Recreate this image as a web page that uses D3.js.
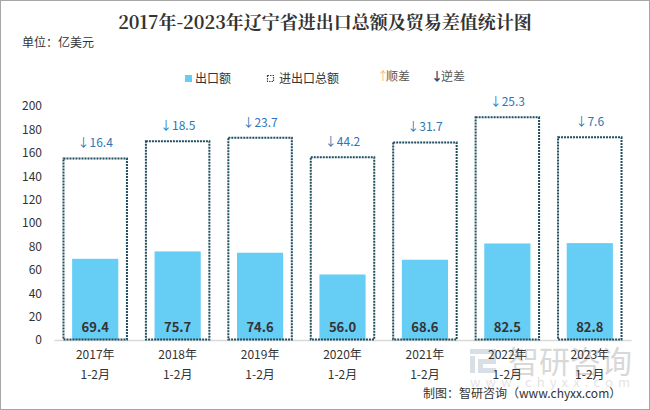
<!DOCTYPE html>
<html><head><meta charset="utf-8">
<script src="https://cdn.jsdelivr.net/npm/d3@7"></script>
<style>body{margin:0;background:#fff}svg{display:block}</style>
</head><body>
<script>
const categories = ["2017年\n1-2月","2018年\n1-2月","2019年\n1-2月","2020年\n1-2月","2021年\n1-2月","2022年\n1-2月","2023年\n1-2月"];
const exportValues = [69.4,75.7,74.6,56.0,68.6,82.5,82.8];
const totalValues = [155.2,169.9,172.9,156.2,168.9,190.3,173.2];
const balanceValues = [16.4,18.5,23.7,44.2,31.7,25.3,7.6];
const balanceType = ["逆差","逆差","逆差","逆差","逆差","逆差","逆差"];
const yTicks = [0,20,40,60,80,100,120,140,160,180,200];

const W=650,H=410;
const svg=d3.select("body").append("svg").attr("width",W).attr("height",H);
svg.append("rect").attr("x",0.5).attr("y",0.5).attr("width",W-1).attr("height",H-1).attr("fill","#fff").attr("stroke","#a6a6a6");

const font="'Microsoft YaHei','Noto Sans CJK SC',sans-serif";

// watermark (behind everything)
const wm=svg.append("g").attr("opacity",0.3);
const logo=wm.append("g").attr("fill","#8497b0");
logo.append("rect").attr("x",470).attr("y",349).attr("width",26).attr("height",5);
logo.append("rect").attr("x",491).attr("y",349).attr("width",5).attr("height",14);
logo.append("rect").attr("x",478).attr("y",359).attr("width",18).attr("height",5);
logo.append("rect").attr("x",478).attr("y",359).attr("width",5).attr("height",14);
logo.append("rect").attr("x",478).attr("y",368).attr("width",18).attr("height",5);
logo.append("rect").attr("x",470).attr("y",356).attr("width",5).attr("height",17);
wm.append("text").attr("x",508).attr("y",373).attr("font-family",font).attr("font-size",31).attr("fill","#7f7f7f").attr("textLength",124).attr("lengthAdjust","spacing").text("智研咨询");
wm.append("text").attr("x",470).attr("y",387).attr("font-family",font).attr("font-size",13).attr("fill","#a6a6a6").attr("textLength",160).attr("lengthAdjust","spacing").text("www.chyxx.com");

svg.append("text").attr("x",325).attr("y",29).attr("text-anchor","middle")
  .attr("font-family","'Noto Serif CJK SC','Noto Sans CJK SC',serif").attr("font-weight","bold").attr("font-size",18).attr("fill","#333")
  .text("2017年-2023年辽宁省进出口总额及贸易差值统计图");
svg.append("text").attr("x",22).attr("y",47).attr("font-family",font).attr("font-size",12).attr("fill","#333").text("单位：亿美元");

// legend
const lg=svg.append("g").attr("font-family",font).attr("font-size",12).attr("fill","#333");
lg.append("rect").attr("x",185).attr("y",75).attr("width",7).attr("height",7).attr("fill","#66cdf5");
lg.append("text").attr("x",195).attr("y",83).text("出口额");
lg.append("rect").attr("x",267.5).attr("y",75.5).attr("width",6).attr("height",6).attr("fill","none").attr("stroke","#1f4e5f").attr("stroke-width",1.2).attr("stroke-dasharray","1.5,1");
lg.append("text").attr("x",279).attr("y",83).text("进出口总额");
lg.append("text").attr("x",377).attr("y",81).attr("fill","#f4b183").text("↑");
lg.append("text").attr("x",386).attr("y",81).attr("fill","#555").text("顺差");
lg.append("text").attr("x",431).attr("y",81).attr("fill","#1f4e79").attr("font-weight","bold").text("↓");
lg.append("text").attr("x",441).attr("y",81).attr("fill","#555").text("逆差");

const x=d3.scaleBand().domain(categories).range([54,631]).paddingInner(0).paddingOuter(0);
const y=d3.scaleLinear().domain([0,200]).range([340,106]);

// y axis
const ya=svg.append("g").attr("transform","translate(46,0)").call(d3.axisLeft(y).tickValues(yTicks).tickSize(0).tickPadding(4));
ya.select(".domain").remove();
ya.selectAll("text").attr("font-family",font).attr("font-size",12).attr("fill","#333");

// x axis
const xa=svg.append("g").attr("transform","translate(0,340)").call(d3.axisBottom(x).tickSize(0).tickFormat(""));
xa.select(".domain").attr("stroke","#d9d9d9").attr("stroke-width",1.5);
xa.selectAll(".tick").each(function(d){
  const parts=d.split("\n");
  const t=d3.select(this).append("text").attr("font-family",font).attr("font-size",12).attr("fill","#333").attr("text-anchor","middle");
  t.append("tspan").attr("x",0).attr("y",19).text(parts[0]);
  t.append("tspan").attr("x",0).attr("y",39).text(parts[1]);
});

const bw=x.bandwidth();
const boxW=bw*0.77, expW=bw*0.56;
svg.append("g").selectAll("rect").data(exportValues).join("rect")
  .attr("x",(d,i)=>x(categories[i])+(bw-expW)/2).attr("width",expW)
  .attr("y",d=>y(d)).attr("height",d=>y(0)-y(d)).attr("fill","#66cdf5");
svg.append("g").selectAll("rect").data(totalValues).join("rect")
  .attr("x",(d,i)=>x(categories[i])+(bw-boxW)/2).attr("width",boxW)
  .attr("y",d=>y(d)).attr("height",d=>y(0)-y(d)-0.5)
  .attr("fill","none").attr("stroke","#1f4e5f").attr("stroke-width",2).attr("stroke-dasharray","2,1");
svg.append("g").selectAll("text").data(exportValues).join("text")
  .attr("x",(d,i)=>x(categories[i])+bw/2).attr("y",332).attr("text-anchor","middle")
  .attr("font-family",font).attr("font-size",13).attr("font-weight","bold").attr("fill","#333")
  .text(d=>d.toFixed(1));
const bl=svg.append("g").selectAll("text").data(balanceValues).join("text")
  .attr("x",(d,i)=>x(categories[i])+bw/2).attr("y",(d,i)=>y(totalValues[i])-11).attr("text-anchor","middle")
  .attr("font-family",font).attr("font-size",12).attr("fill","#2e75b6");
bl.append("tspan").attr("fill",(d,i)=>balanceType[i]==="顺差"?"#f4b183":"#2e75b6").text((d,i)=>balanceType[i]==="顺差"?"↑":"↓");
bl.append("tspan").text(d=>d.toFixed(1));

svg.append("text").attr("x",423).attr("y",398).attr("font-family",font).attr("font-size",12).attr("fill","#333").text("制图：智研咨询（www.chyxx.com）");
</script>
</body></html>
